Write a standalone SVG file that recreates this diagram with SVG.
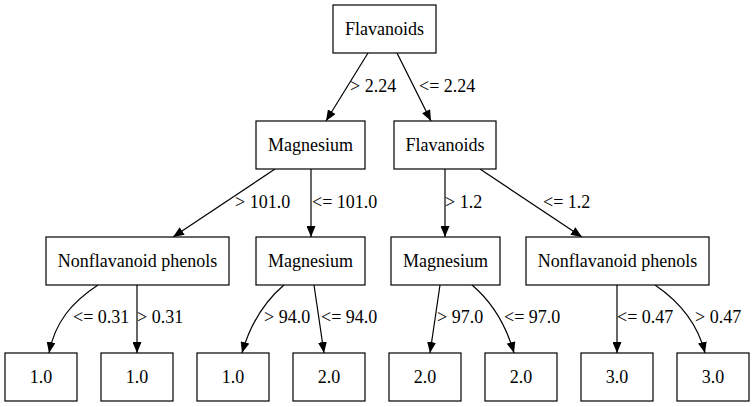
<svg xmlns="http://www.w3.org/2000/svg" width="755" height="407" viewBox="0 0 755 407">
<style>
.n rect{fill:#fff;stroke:#000;stroke-width:1.2}
.t{font-family:"Liberation Serif","Times New Roman",serif;font-size:18px;fill:#000}
.n text{text-anchor:middle}
.e path{fill:none;stroke:#000;stroke-width:1.2}
</style>
<defs>
<marker id="ah" markerWidth="11" markerHeight="9" refX="11" refY="4.5" orient="auto" markerUnits="userSpaceOnUse">
<polygon points="0,0 11,4.5 0,9" fill="#000"/>
</marker>
</defs>
<rect width="755" height="407" fill="#fff"/>
<g id="edges" class="e">
<path d="M368,53 L326,121" marker-end="url(#ah)"/>
<path d="M397,53 L431,121" marker-end="url(#ah)"/>
<path d="M275,169 L173,237" marker-end="url(#ah)"/>
<path d="M311,169 L311,237" marker-end="url(#ah)"/>
<path d="M445,169 L445,237" marker-end="url(#ah)"/>
<path d="M480,169 L582,237" marker-end="url(#ah)"/>
<path d="M98,285 C72,302 55,322 49,353" marker-end="url(#ah)"/>
<path d="M137,285 L137,353" marker-end="url(#ah)"/>
<path d="M284,285 C264,302 250,325 242,353" marker-end="url(#ah)"/>
<path d="M314,285 L324,353" marker-end="url(#ah)"/>
<path d="M440,285 L430,353" marker-end="url(#ah)"/>
<path d="M472,285 C492,302 506,325 514,353" marker-end="url(#ah)"/>
<path d="M617,285 L617,353" marker-end="url(#ah)"/>
<path d="M655,285 C680,302 698,325 705,353" marker-end="url(#ah)"/>
<text class="t" x="350" y="92">&gt; 2.24</text>
<text class="t" x="419" y="92">&lt;= 2.24</text>
<text class="t" x="235" y="208">&gt; 101.0</text>
<text class="t" x="312" y="208">&lt;= 101.0</text>
<text class="t" x="445" y="208">&gt; 1.2</text>
<text class="t" x="543" y="208">&lt;= 1.2</text>
<text class="t" x="73" y="323">&lt;= 0.31</text>
<text class="t" x="137" y="323">&gt; 0.31</text>
<text class="t" x="264" y="323">&gt; 94.0</text>
<text class="t" x="321" y="323">&lt;= 94.0</text>
<text class="t" x="437" y="323">&gt; 97.0</text>
<text class="t" x="504" y="323">&lt;= 97.0</text>
<text class="t" x="617" y="323">&lt;= 0.47</text>
<text class="t" x="695" y="323">&gt; 0.47</text>
</g>
<g id="n0" class="n"><rect x="333" y="5" width="103" height="48"/><text class="t" x="384.5" y="35">Flavanoids</text></g>
<g id="n1" class="n"><rect x="256" y="121" width="109" height="48"/><text class="t" x="310.5" y="151">Magnesium</text></g>
<g id="n2" class="n"><rect x="394" y="121" width="102" height="48"/><text class="t" x="445" y="151">Flavanoids</text></g>
<g id="n3" class="n"><rect x="46" y="237" width="183" height="48"/><text class="t" x="137.5" y="267">Nonflavanoid phenols</text></g>
<g id="n4" class="n"><rect x="256" y="237" width="109" height="48"/><text class="t" x="310.5" y="267">Magnesium</text></g>
<g id="n5" class="n"><rect x="391" y="237" width="109" height="48"/><text class="t" x="445.5" y="267">Magnesium</text></g>
<g id="n6" class="n"><rect x="526" y="237" width="183" height="48"/><text class="t" x="617.5" y="267">Nonflavanoid phenols</text></g>
<g id="n7" class="n"><rect x="5" y="353" width="72" height="48"/><text class="t" x="41" y="383">1.0</text></g>
<g id="n8" class="n"><rect x="101" y="353" width="72" height="48"/><text class="t" x="137" y="383">1.0</text></g>
<g id="n9" class="n"><rect x="197" y="353" width="72" height="48"/><text class="t" x="233" y="383">1.0</text></g>
<g id="n10" class="n"><rect x="293" y="353" width="72" height="48"/><text class="t" x="329" y="383">2.0</text></g>
<g id="n11" class="n"><rect x="389" y="353" width="72" height="48"/><text class="t" x="425" y="383">2.0</text></g>
<g id="n12" class="n"><rect x="485" y="353" width="72" height="48"/><text class="t" x="521" y="383">2.0</text></g>
<g id="n13" class="n"><rect x="581" y="353" width="72" height="48"/><text class="t" x="617" y="383">3.0</text></g>
<g id="n14" class="n"><rect x="677" y="353" width="72" height="48"/><text class="t" x="713" y="383">3.0</text></g>
</svg>
